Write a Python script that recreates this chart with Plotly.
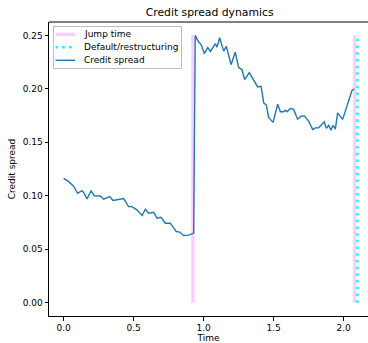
import plotly.graph_objects as go

# Simulated credit spread path (time in years, spread as a decimal)
time_pre = [0.0, 0.036, 0.071, 0.100, 0.131, 0.143, 0.167, 0.196, 0.219, 0.262,
            0.286, 0.329, 0.353, 0.393, 0.429, 0.464, 0.488, 0.524, 0.560, 0.584,
            0.607, 0.643, 0.667, 0.695, 0.726, 0.762, 0.805, 0.829, 0.857, 0.893,
            0.929]
spread_pre = [0.1163, 0.1132, 0.1090, 0.1023, 0.1048, 0.1030, 0.0970, 0.1045, 0.1000, 0.0998,
              0.0967, 0.0992, 0.0955, 0.0961, 0.0973, 0.0898, 0.0898, 0.0868, 0.0815, 0.0874,
              0.0837, 0.0846, 0.0790, 0.0799, 0.0743, 0.0743, 0.0665, 0.0660, 0.0628, 0.0631,
              0.0650]
time_post = [0.940, 0.964, 0.981, 1.005, 1.029, 1.048, 1.084, 1.096, 1.114, 1.143,
             1.162, 1.196, 1.226, 1.250, 1.274, 1.293, 1.326, 1.357, 1.386, 1.410,
             1.429, 1.448, 1.464, 1.496, 1.529, 1.548, 1.571, 1.584, 1.596, 1.619,
             1.643, 1.671, 1.695, 1.719, 1.750, 1.779, 1.798, 1.821, 1.862, 1.876,
             1.893, 1.910, 1.924, 1.941, 1.957, 1.993, 2.036, 2.060, 2.076]
spread_post = [0.2500, 0.2438, 0.2416, 0.2330, 0.2385, 0.2350, 0.2422, 0.2390, 0.2478, 0.2353,
               0.2397, 0.2226, 0.2344, 0.2198, 0.2180, 0.2087, 0.2152, 0.2080, 0.2018, 0.2024,
               0.1868, 0.1847, 0.1732, 0.1686, 0.1856, 0.1785, 0.1785, 0.1800, 0.1785, 0.1816,
               0.1807, 0.1716, 0.1744, 0.1747, 0.1698, 0.1620, 0.1635, 0.1635, 0.1691, 0.1630,
               0.1658, 0.1614, 0.1658, 0.1623, 0.1775, 0.1714, 0.1878, 0.1987, 0.1996]
time = time_pre + time_post
spread = spread_pre + spread_post

jump_times = [0.923, 2.079]
default_time = 2.098
line_bottom = 0.0
line_top = 0.25

x_ticks = [0.0, 0.5, 1.0, 1.5, 2.0]
y_ticks = [0.00, 0.05, 0.10, 0.15, 0.20, 0.25]

series_names = ["Jump time", "Default/restructuring", "Credit spread"]

FONT = "DejaVu Sans"
JUMP_STYLE = dict(color="rgba(255,0,255,0.2)", width=3.3)
DEFAULT_STYLE = dict(color="#00ffff", width=2.5, dash="2.5px,4.2px")
SPREAD_STYLE = dict(color="#1f77b4", width=1.4)
styles = [JUMP_STYLE, DEFAULT_STYLE, SPREAD_STYLE]

W, H = 368, 343
M_L, M_R, M_T, M_B = 49, 0, 22, 27
PLOT_W, PLOT_H = W - M_L - M_R, H - M_T - M_B

jump_x, jump_y = [], []
for t in jump_times:
    jump_x += [t, t, None]
    jump_y += [line_bottom, line_top, None]

fig = go.Figure()
fig.add_trace(go.Scatter(x=jump_x, y=jump_y, mode="lines", name=series_names[0], line=JUMP_STYLE))
fig.add_trace(go.Scatter(x=[default_time, default_time], y=[line_bottom, line_top], mode="lines",
                         name=series_names[1], line=DEFAULT_STYLE))
fig.add_trace(go.Scatter(x=time, y=spread, mode="lines", name=series_names[2], line=SPREAD_STYLE))

axis_common = dict(
    showgrid=False, zeroline=False, showline=True, linecolor="#000000", linewidth=1,
    ticks="outside", ticklen=3.5, tickwidth=1, tickcolor="#000000",
    tickfont=dict(family=FONT, size=9, color="#000000"),
)


def px(dx):
    """Pixel offset from the plot's left edge -> paper x."""
    return dx / PLOT_W


def py(dy):
    """Pixel offset down from the plot's top edge -> paper y."""
    return 1 - dy / PLOT_H


# Compact legend: a framed box with a line sample and a label per series
shapes = [
    dict(type="line", xref="paper", yref="paper", x0=0, x1=1, y0=1, y1=1,
         line=dict(color="#000000", width=1)),
    dict(type="rect", xref="paper", yref="paper",
         x0=px(4.5), x1=px(132.5), y0=py(4.5), y1=py(46.5),
         fillcolor="rgba(255,255,255,0.8)", line=dict(color="#bdbdbd", width=1)),
]
annotations = []
row_offsets = [12.3, 25.3, 38.3]
for name, style, dy in zip(series_names, styles, row_offsets):
    shapes.append(dict(type="line", xref="paper", yref="paper",
                       x0=px(6.5), x1=px(26), y0=py(dy), y1=py(dy), line=style))
    annotations.append(dict(text=name, xref="paper", yref="paper", x=px(32.5), y=py(dy),
                            xanchor="left", yanchor="middle",
                            showarrow=False, font=dict(family=FONT, size=9, color="#000000")))

fig.update_layout(
    width=W, height=H,
    margin=dict(l=M_L, r=M_R, t=M_T, b=M_B, pad=0),
    paper_bgcolor="white", plot_bgcolor="white",
    font=dict(family=FONT, size=9, color="#000000"),
    title=dict(text="Credit spread dynamics", x=0.5696, xref="container", xanchor="center",
               y=1 - 12.5 / H, yanchor="middle", font=dict(family=FONT, size=10.8)),
    xaxis=dict(range=[-0.1045, 2.174], tickvals=x_ticks, tickformat=".1f",
               title=dict(text="Time", standoff=3, font=dict(size=9)), **axis_common),
    yaxis=dict(range=[-0.0125, 0.2625], tickvals=y_ticks, tickformat=".2f",
               title=dict(text="Credit spread", standoff=5, font=dict(size=9)), **axis_common),
    showlegend=False,
    shapes=shapes,
    annotations=annotations,
)

fig.write_html("out.html")
